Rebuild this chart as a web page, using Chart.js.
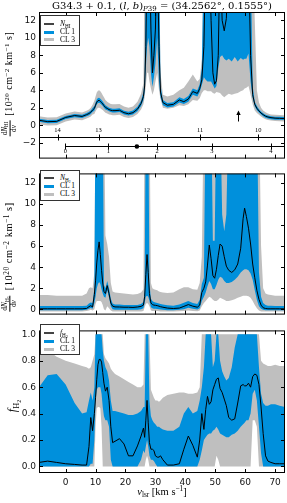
<!DOCTYPE html>
<html>
<head>
<meta charset="utf-8">
<script src="https://cdn.jsdelivr.net/npm/chart.js@4.4.1/dist/chart.umd.min.js"></script>
<style>
  html, body { margin:0; padding:0; background:#fff; }
  body { position:relative; width:287px; height:503px; overflow:hidden; font-family:"Liberation Serif", serif; color:#000; }
  canvas { position:absolute; left:0; }
  .txt { position:absolute; white-space:nowrap; line-height:1; }
  .rot { transform:translate(-50%,-50%) rotate(-90deg); }
  .ctr { transform:translate(-50%,-50%); }
  sub { font-size:70%; vertical-align:-0.3em; line-height:0; }
  sup { font-size:70%; vertical-align:0.45em; line-height:0; }
  .frac { display:inline-block; vertical-align:middle; text-align:center; font-size:72%; line-height:1.1; margin-right:2px; letter-spacing:0; }
  .frac > span { display:block; padding:0 1px; }
  .frac > span:first-child { border-bottom:0.8px solid #000; }
  .legend { position:absolute; left:40px; width:38px; height:29px; border:1px solid #333; background:#fff; font-size:7.5px; }
  .legend .row { position:absolute; left:0; width:38px; height:8px; }
  .legend .s { position:absolute; left:3px; width:10px; }
  .legend .t { position:absolute; left:19px; top:0; line-height:8px; }
</style>
</head>
<body>
<canvas id="c1" width="287" height="167" style="top:0"></canvas>
<canvas id="c2" width="287" height="158" style="top:165px"></canvas>
<canvas id="c3" width="287" height="181" style="top:322px"></canvas>

<div class="txt" style="left:0; width:324px; text-align:center; top:1px; font-size:10px; font-family:'DejaVu Serif',serif;">G34.3 + 0.1, (<i>l</i>, <i>b</i>)<sub><i>P</i>39</sub> = (34.2562°, 0.1555°)</div>

<div class="txt rot" style="left:10px; top:84px; font-size:10px; letter-spacing:0.5px;"><span class="frac"><span>d<i>N</i><sub>HI</sub></span><span>d<i>v</i></span></span> [10<sup>20</sup> cm<sup>−2</sup> km<sup>−1</sup> s]</div>
<div class="txt rot" style="left:10px; top:257px; font-size:10.3px; letter-spacing:0.6px;"><span class="frac"><span>d<i>N</i><sub>H<sub>2</sub></sub></span><span>d<i>v</i></span></span> [10<sup>20</sup> cm<sup>−2</sup> km<sup>−1</sup> s]</div>
<div class="txt rot" style="left:12px; top:406px; font-size:12px;"><i>f</i><sub>H<sub>2</sub></sub></div>
<div class="txt ctr" style="left:162px; top:492px; font-size:10.5px;"><i>v</i><sub>lsr</sub> [km s<sup>−1</sup>]</div>

<div class="legend" style="top:15px;">
  <div class="row" style="top:4px"><i class="s" style="top:3px;height:1.5px;background:#444"></i><span class="t"><i>N</i><sub>HI</sub></span></div>
  <div class="row" style="top:12px"><i class="s" style="top:2.5px;height:3px;background:#0090dc"></i><span class="t">CL 1</span></div>
  <div class="row" style="top:19.5px"><i class="s" style="top:2.5px;height:3px;background:#bfbfbf"></i><span class="t">CL 3</span></div>
</div>
<div class="legend" style="top:170px;">
  <div class="row" style="top:3px"><i class="s" style="top:3px;height:1.5px;background:#444"></i><span class="t"><i>N</i><sub>H<sub>2</sub></sub></span></div>
  <div class="row" style="top:11px"><i class="s" style="top:2.5px;height:3px;background:#0090dc"></i><span class="t">CL 1</span></div>
  <div class="row" style="top:19px"><i class="s" style="top:2.5px;height:3px;background:#bfbfbf"></i><span class="t">CL 3</span></div>
</div>
<div class="legend" style="top:324px;">
  <div class="row" style="top:4px"><i class="s" style="top:3px;height:1.5px;background:#444"></i><span class="t"><i>f</i><sub>H<sub>2</sub></sub></span></div>
  <div class="row" style="top:12px"><i class="s" style="top:2.5px;height:3px;background:#0090dc"></i><span class="t">CL 1</span></div>
  <div class="row" style="top:20px"><i class="s" style="top:2.5px;height:3px;background:#bfbfbf"></i><span class="t">CL 3</span></div>
</div>

<script>
// velocity grid shared by all three panels (km/s)
const vlsr = [
  -8.9, -6, -3, 0, 3, 5.5, 7, 7.8, 8.4, 9.0,
  9.6, 10.0, 10.4, 10.8, 11.2, 11.6, 12.0, 12.4, 12.8, 13.3,
  13.9, 14.5, 15.1, 15.7, 16.5, 18, 19.5, 21, 22.5, 24,
  25.2, 26.0, 26.4, 26.8, 27.2, 27.6, 28.0, 28.5, 29.0, 29.5,
  30.0, 30.6, 31.2, 31.7, 32.5, 34, 36, 38, 39.5, 41,
  42.5, 44, 44.8, 45.5, 46.2, 46.8, 47.4, 48.0, 48.6, 49.2,
  49.8, 50.4, 51.0, 51.6, 52.3, 53.0, 53.7, 54.5, 55.5, 56.5,
  57.5, 58.5, 59.3, 59.8, 60.4, 61.1, 61.8, 62.5, 63.2, 63.9,
  64.6, 65.3, 66.0, 66.8, 67.6, 68.6, 70, 71.5, 73.3
];

// dN_HI/dv
const hiMed = [
  0.58, 0.42, 0.45, 0.9, 1.12, 1.02, 1.22, 1.35, 1.5, 1.75,
  1.93, 2.3, 2.65, 2.82, 2.85, 2.75, 2.6, 2.45, 2.25, 2.05,
  1.93, 1.8, 1.72, 1.68, 1.68, 1.72, 1.45, 1.32, 1.45, 1.85,
  2.5, 3.3, 4.5, 9, 20, 20, 20, 11, 6.0, 8,
  11, 20, 9, 3.8, 2.6, 2.3, 2.4, 2.9, 2.7, 3.0,
  3.86, 3.65, 4.2, 5.2, 9, 20, 20, 20, 12, 6.0,
  4.7, 5.1, 8, 20, 12.0, 10.8, 12.2, 20, 20, 20,
  20, 20, 20, 20, 20, 20, 8, 3.5, 2.4, 1.95,
  1.65, 1.4, 1.22, 1.05, 0.95, 0.88, 0.82, 0.8, 0.78
];
const hiCl1Lo = [
  0.4, 0.25, 0.28, 0.72, 0.93, 0.84, 1.03, 1.15, 1.3, 1.52,
  1.68, 2.03, 2.38, 2.55, 2.58, 2.5, 2.35, 2.2, 2.02, 1.82,
  1.72, 1.6, 1.52, 1.48, 1.48, 1.52, 1.25, 1.12, 1.25, 1.6,
  2.2, 2.9, 3.8, 6.5, 9, 10, 9, 6, 4.4, 5.5,
  7, 10, 5, 3.2, 2.3, 2.05, 2.15, 2.6, 2.45, 2.7,
  3.5, 3.3, 3.8, 4.6, 5.5, 5.2, 5.0, 5.0, 5.0, 4.6,
  4.2, 4.5, 6.5, 7.8, 8.0, 7.6, 7.4, 7.6, 7.3, 7.8,
  7.3, 7.7, 7.5, 7.6, 7.6, 8.2, 5, 3.1, 2.15, 1.72,
  1.47, 1.23, 1.05, 0.88, 0.78, 0.71, 0.65, 0.63, 0.61
];
const hiCl1Hi = [
  0.76, 0.6, 0.63, 1.08, 1.3, 1.2, 1.4, 1.55, 1.7, 1.98,
  2.2, 2.6, 2.95, 3.12, 3.15, 3.05, 2.9, 2.73, 2.52, 2.3,
  2.15, 2.02, 1.94, 1.9, 1.9, 1.95, 1.68, 1.55, 1.7, 2.12,
  2.8, 3.8, 5.5, 20, 20, 20, 20, 20, 20, 20,
  20, 20, 20, 4.6, 2.9, 2.55, 2.65, 3.2, 3.0, 3.35,
  4.2, 4.0, 4.7, 6.5, 20, 20, 20, 20, 20, 20,
  20, 20, 20, 20, 20, 20, 20, 20, 20, 20,
  20, 20, 20, 20, 20, 20, 20, 4.5, 2.7, 2.2,
  1.83, 1.57, 1.39, 1.22, 1.12, 1.05, 0.99, 0.97, 0.95
];
const hiCl3Lo = [
  0.1, -0.02, 0.0, 0.45, 0.67, 0.57, 0.77, 0.9, 1.02, 1.25,
  1.3, 1.6, 1.85, 2.0, 2.0, 1.95, 1.85, 1.75, 1.6, 1.45,
  1.35, 1.25, 1.2, 1.15, 1.15, 1.2, 0.95, 0.85, 0.95, 1.3,
  1.8, 2.4, 3.2, 4.5, 6, 6, 5, 4.2, 3.5, 4.0,
  5.0, 6, 4.0, 3.0, 2.0, 1.9, 2.0, 2.3, 2.2, 2.4,
  2.9, 2.8, 3.1, 3.7, 4.0, 4.0, 3.9, 3.9, 3.9, 3.7,
  3.6, 3.8, 3.75, 3.7, 3.4, 3.2, 3.4, 3.6, 3.5, 3.6,
  3.7, 3.9, 4.0, 4.2, 4.3, 4.5, 3.5, 2.4, 1.7, 1.4,
  1.2, 1.0, 0.85, 0.7, 0.6, 0.55, 0.5, 0.48, 0.45
];
const hiCl3Hi = [
  1.05, 0.9, 0.92, 1.35, 1.57, 1.47, 1.67, 1.82, 2.0, 2.35,
  2.8, 3.3, 3.75, 3.95, 4.0, 3.9, 3.7, 3.45, 3.2, 2.9,
  2.7, 2.55, 2.45, 2.4, 2.4, 2.45, 2.15, 2.0, 2.15, 2.7,
  3.6, 4.8, 20, 20, 20, 20, 20, 20, 20, 20,
  20, 20, 20, 6.0, 3.5, 3.3, 3.5, 4.0, 4.3, 5.0,
  5.8, 5.0, 5.3, 7.5, 20, 20, 20, 20, 20, 20,
  20, 20, 20, 20, 20, 20, 20, 20, 20, 20,
  20, 20, 20, 20, 20, 20, 20, 20, 12, 4,
  2.6, 2.0, 1.7, 1.5, 1.35, 1.25, 1.2, 1.18, 1.15
];

// dN_H2/dv
const h2Med = [
  0.05, 0.05, 0.05, 0.05, 0.05, 0.05, 0.08, 0.25, 0.35, 0.22,
  1.4, 2.7, 4.4, 5.6, 6.4, 5.2, 3.7, 2.5, 1.7, 1.5,
  2.25, 1.5, 0.6, 0.3, 0.23, 0.22, 0.2, 0.2, 0.18, 0.22,
  0.28, 0.4, 1.2, 3.3, 5.2, 3.5, 1.5, 0.6, 0.45, 0.4,
  0.38, 0.35, 0.3, 0.25, 0.2, 0.12, 0.08, 0.12, 0.28, 0.45,
  0.3, 0.2, 0.4, 1.6, 2.0, 2.6, 4.2, 6.1, 4.8, 3.2,
  2.95, 3.8, 5.1, 6.2, 6.0, 5.0, 4.1, 3.7, 3.5, 3.75,
  4.3, 5.8, 8.6, 9.6, 8.8, 7.7, 6.2, 4.3, 3.0, 1.8,
  0.95, 0.4, 0.15, 0.08, 0.05, 0.05, 0.05, 0.05, 0.05
];
const h2Cl1Lo = [
  -0.08, -0.08, -0.08, -0.08, -0.08, -0.08, -0.05, 0.05, 0.12, 0.05,
  0.6, 1.2, 2.0, 2.4, 2.6, 2.4, 1.9, 1.5, 1.2, 1.1,
  1.8, 1.1, 0.3, 0.0, -0.05, -0.05, -0.05, -0.05, -0.05, -0.05,
  0.0, 0.1, 0.6, 1.2, 1.3, 1.2, 0.8, 0.2, 0.1, 0.05,
  0.05, 0.02, 0.0, -0.02, -0.05, -0.08, -0.08, -0.05, 0.0, 0.15,
  0.05, -0.02, 0.1, 0.8, 1.2, 1.6, 2.2, 2.7, 2.4, 1.9,
  1.9, 2.3, 2.8, 3.1, 3.0, 2.7, 2.5, 2.5, 2.6, 2.8,
  3.1, 3.5, 3.7, 3.8, 3.8, 3.7, 3.4, 2.8, 1.8, 0.9,
  0.3, 0.05, -0.05, -0.08, -0.08, -0.08, -0.08, -0.08, -0.08
];
const h2Cl1Hi = [
  0.32, 0.32, 0.32, 0.32, 0.32, 0.32, 0.35, 0.55, 0.65, 0.6,
  2.0, 20, 20, 20, 20, 20, 20, 20, 2.3, 2.0,
  2.7, 2.0, 1.0, 0.55, 0.45, 0.45, 0.42, 0.42, 0.4, 0.42,
  0.5, 0.7, 1.8, 20, 20, 20, 2.5, 1.0, 0.8, 0.7,
  0.65, 0.6, 0.55, 0.5, 0.45, 0.38, 0.35, 0.45, 0.62, 0.8,
  0.6, 0.5, 0.9, 2.4, 3.0, 20, 20, 20, 20, 6.5,
  6.5, 20, 20, 20, 9, 7.4, 9, 20, 20, 20,
  20, 20, 20, 20, 20, 20, 20, 20, 20, 20,
  3.5, 1.2, 0.6, 0.4, 0.35, 0.33, 0.32, 0.32, 0.32
];
const h2Cl3Lo = [
  -0.2, -0.2, -0.2, -0.2, -0.2, -0.2, -0.15, -0.1, -0.05, -0.1,
  0.0, 0.5, 0.8, 0.8, 0.8, 0.8, 0.7, 0.4, 0.0, -0.1,
  0.3, 0.1, -0.1, -0.2, -0.2, -0.2, -0.2, -0.2, -0.2, -0.2,
  -0.2, -0.15, 0.2, 0.5, 0.6, 0.5, 0.3, -0.1, -0.15, -0.15,
  -0.15, -0.15, -0.18, -0.2, -0.2, -0.2, -0.2, -0.18, -0.15, -0.1,
  -0.15, -0.18, -0.1, 0.3, 0.6, 0.8, 1.0, 1.2, 1.1, 0.9,
  0.8, 0.8, 0.9, 1.1, 1.0, 0.9, 0.8, 0.8, 0.85, 0.95,
  1.1, 1.2, 1.3, 1.3, 1.3, 1.25, 1.1, 0.8, 0.4, 0.1,
  -0.1, -0.2, -0.2, -0.2, -0.2, -0.2, -0.2, -0.2, -0.2
];
const h2Cl3Hi = [
  1.35, 1.35, 1.3, 1.3, 1.3, 1.3, 1.5, 2.0, 2.1, 2.0,
  3.5, 20, 20, 20, 20, 20, 20, 20, 20, 7.0,
  6.2, 5.0, 2.5, 1.7, 1.6, 1.55, 1.5, 1.45, 1.4, 1.45,
  1.6, 1.9, 20, 20, 20, 20, 20, 2.5, 2.0, 1.9,
  1.85, 1.8, 1.7, 1.65, 1.6, 1.55, 1.6, 1.9, 2.1, 2.1,
  1.9, 1.85, 2.5, 5, 20, 20, 20, 20, 20, 20,
  20, 20, 20, 20, 20, 20, 20, 20, 20, 20,
  20, 20, 20, 20, 20, 20, 20, 20, 20, 20,
  20, 6, 2.0, 1.5, 1.4, 1.35, 1.3, 1.3, 1.3
];

// f_H2
const fMed = [
  0.03, 0.04, 0.03, 0.02, 0.015, 0.01, 0.01, 0.15, 0.37, 0.27,
  0.4, 0.52, 0.66, 0.77, 0.81, 0.81, 0.79, 0.71, 0.63, 0.57,
  0.6, 0.5, 0.3, 0.18, 0.19, 0.21, 0.17, 0.08, 0.08, 0.155,
  0.23, 0.29, 0.22, 0.35, 0.5, 0.33, 0.18, 0.13, 0.13, 0.12,
  0.08, 0.07, 0.07, 0.08, 0.05, 0.01, 0.01, 0.02, 0.13, 0.23,
  0.16, 0.07, 0.2, 0.4, 0.28, 0.43, 0.53, 0.47, 0.49, 0.58,
  0.62, 0.66, 0.67, 0.59, 0.56, 0.51, 0.46, 0.37, 0.35, 0.36,
  0.48, 0.61, 0.62, 0.61, 0.61, 0.63, 0.6, 0.68, 0.7, 0.69,
  0.62, 0.45, 0.25, 0.08, 0.04, 0.03, 0.02, 0.02, 0.02
];
const fCl1Lo = [
  0, 0, 0, 0, 0, 0, 0, 0, 0.02, 0.02,
  0.2, 0.5, 0.58, 0.6, 0.6, 0.6, 0.55, 0.45, 0.38, 0.35,
  0.35, 0.3, 0.05, 0, 0, 0, 0, 0, 0, 0,
  0.05, 0.12, 0.1, 0.15, 0.2, 0.15, 0.08, 0.05, 0.05, 0.04,
  0.02, 0, 0, 0, 0, 0, 0, 0, 0, 0,
  0, 0, 0.05, 0.12, 0.2, 0.22, 0.24, 0.25, 0.25, 0.27,
  0.28, 0.3, 0.28, 0.25, 0.24, 0.23, 0.22, 0.22, 0.24, 0.25,
  0.27, 0.3, 0.32, 0.33, 0.35, 0.35, 0.4, 0.55, 0.58, 0.5,
  0.3, 0.1, 0, 0, 0, 0, 0, 0, 0
];
const fCl1Hi = [
  0.6, 0.69, 0.7, 0.62, 0.48, 0.4, 0.41, 0.5, 0.56, 0.5,
  0.6, 1.0, 1.0, 1.0, 1.0, 1.0, 1.0, 0.88, 0.8, 0.75,
  0.72, 0.65, 0.5, 0.42, 0.42, 0.41, 0.4, 0.39, 0.39, 0.4,
  0.42, 0.45, 0.45, 1.0, 1.0, 1.0, 0.5, 0.38, 0.35, 0.33,
  0.32, 0.3, 0.3, 0.29, 0.28, 0.27, 0.27, 0.3, 0.4, 0.45,
  0.4, 0.42, 0.5, 0.6, 0.75, 1.0, 1.0, 1.0, 1.0, 0.75,
  0.8, 1.0, 1.0, 0.8, 0.72, 0.68, 0.65, 0.67, 0.75, 0.9,
  1.0, 1.0, 1.0, 1.0, 1.0, 1.0, 1.0, 1.0, 1.0, 1.0,
  0.75, 0.55, 0.48, 0.46, 0.46, 0.47, 0.47, 0.46, 0.45
];
const fCl3Lo = [
  0, 0, 0, 0, 0, 0, 0, 0, 0, 0,
  0, 0.3, 0.44, 0.45, 0.45, 0.44, 0.3, 0, 0, 0,
  0, 0, 0, 0, 0, 0, 0, 0, 0, 0,
  0, 0, 0, 0.05, 0.08, 0.05, 0, 0, 0, 0,
  0, 0, 0, 0, 0, 0, 0, 0, 0, 0,
  0, 0, 0, 0, 0, 0, 0, 0, 0, 0,
  0, 0.08, 0.05, 0, 0, 0, 0, 0, 0, 0,
  0, 0, 0, 0, 0, 0, 0, 0.35, 0.35, 0.3,
  0, 0, 0, 0, 0, 0, 0, 0, 0
];
const fCl3Hi = [
  0.95, 0.88, 0.83, 0.8, 0.78, 0.76, 0.75, 0.74, 0.75, 0.8,
  0.85, 1.0, 1.0, 1.0, 1.0, 1.0, 1.0, 1.0, 0.85, 0.82,
  0.8, 0.78, 0.74, 0.72, 0.7, 0.68, 0.66, 0.64, 0.62, 0.6,
  0.6, 0.62, 1.0, 1.0, 1.0, 1.0, 1.0, 0.58, 0.55, 0.52,
  0.5, 0.5, 0.49, 0.5, 0.52, 0.54, 0.55, 0.56, 0.56, 0.55,
  0.55, 0.56, 0.6, 1.0, 1.0, 1.0, 1.0, 1.0, 1.0, 1.0,
  1.0, 1.0, 1.0, 1.0, 1.0, 1.0, 1.0, 1.0, 1.0, 1.0,
  1.0, 1.0, 1.0, 1.0, 1.0, 1.0, 1.0, 1.0, 1.0, 1.0,
  1.0, 0.8, 0.78, 0.77, 0.76, 0.76, 0.77, 0.76, 0.76
];

// ticks
const xTicks = [0, 10, 20, 30, 40, 50, 60, 70];
const hiTicks = [-2, 0, 2, 4, 6, 8, 10, 12];
const h2Ticks = [0, 2, 4, 6, 8, 10, 12];
const fTicks = [0, 0.2, 0.4, 0.6, 0.8, 1.0];

// galactocentric radius (kpc) and distance (kpc) scales along v_lsr
const radiusV = [-2.7, 11.0, 27.1, 44.9, 64.4];
const radiusTxt = ['14', '13', '12', '11', '10'];
const distV = [-0.1, 14.3, 30.6, 48.9, 68.6];
const distTxt = ['0', '1', '2', '3', '4'];
const sourceV = 23.8;
const arrowV = 57.5;

const BLUE = '#0090dc', GREY = '#bfbfbf';
const X_MIN = -8.9, X_MAX = 73.3;

function pts(arr) { return vlsr.map((v, i) => ({ x: v, y: arr[i] })); }

function band(lo, hi, color, order) {
  return [
    { data: pts(lo), borderWidth: 0, borderColor: 'rgba(0,0,0,0)', pointRadius: 0, fill: false, order },
    { data: pts(hi), borderWidth: 0, borderColor: 'rgba(0,0,0,0)', pointRadius: 0, fill: '-1', backgroundColor: color, order }
  ];
}

function sets(med, c1lo, c1hi, c3lo, c3hi) {
  return [
    ...band(c3lo, c3hi, GREY, 2),
    ...band(c1lo, c1hi, BLUE, 1),
    { data: pts(med), borderColor: '#000', borderWidth: 1, pointRadius: 0, fill: false, order: 0 }
  ];
}

// box + inward ticks on all four sides, like the old matplotlib style
function frame(yTicks) {
  return {
    id: 'frame',
    afterDatasetsDraw(chart) {
      const { ctx, chartArea: a, scales } = chart;
      ctx.save();
      ctx.strokeStyle = '#000';
      ctx.lineWidth = 1;
      ctx.beginPath();
      xTicks.forEach(v => {
        const px = Math.round(scales.x.getPixelForValue(v)) + 0.5;
        ctx.moveTo(px, a.bottom); ctx.lineTo(px, a.bottom - 4);
        ctx.moveTo(px, a.top); ctx.lineTo(px, a.top + 4);
      });
      yTicks.forEach(v => {
        const py = Math.round(scales.y.getPixelForValue(v)) + 0.5;
        ctx.moveTo(a.left, py); ctx.lineTo(a.left + 4, py);
        ctx.moveTo(a.right, py); ctx.lineTo(a.right - 4, py);
      });
      ctx.stroke();
      ctx.strokeRect(a.left + 0.5, a.top + 0.5, a.right - a.left - 1, a.bottom - a.top - 1);
      ctx.restore();
    }
  };
}

// radius / distance scales and the arrow inside the HI panel
const ROW_R_TXT = -0.58, ROW_R = -1.29, ROW_D = -2.32, ROW_D_TXT = -3.0;
const scaleMarks = {
  id: 'scaleMarks',
  afterDatasetsDraw(chart) {
    const { ctx, chartArea: a, scales: { x, y } } = chart;
    const yr = Math.round(y.getPixelForValue(ROW_R)) + 0.5;
    const yd = Math.round(y.getPixelForValue(ROW_D)) + 0.5;
    ctx.save();
    ctx.strokeStyle = '#000';
    ctx.fillStyle = '#000';
    ctx.lineWidth = 1;
    ctx.beginPath();
    ctx.moveTo(a.left, yr); ctx.lineTo(a.right, yr);
    const x0 = Math.round(x.getPixelForValue(distV[0])) + 0.5;
    ctx.moveTo(x0, yd); ctx.lineTo(a.right, yd);
    radiusV.forEach(v => {
      const px = Math.round(x.getPixelForValue(v)) + 0.5;
      ctx.moveTo(px, yr - 3); ctx.lineTo(px, yr + 3);
    });
    distV.forEach(v => {
      const px = Math.round(x.getPixelForValue(v)) + 0.5;
      ctx.moveTo(px, yd - 3); ctx.lineTo(px, yd + 3);
    });
    ctx.stroke();

    ctx.font = '6.5px "Liberation Serif", serif';
    ctx.textAlign = 'center';
    ctx.textBaseline = 'middle';
    radiusV.forEach((v, i) => ctx.fillText(radiusTxt[i], x.getPixelForValue(v), y.getPixelForValue(ROW_R_TXT)));
    distV.forEach((v, i) => ctx.fillText(distTxt[i], x.getPixelForValue(v), y.getPixelForValue(ROW_D_TXT)));

    ctx.beginPath();
    ctx.arc(x.getPixelForValue(sourceV), yd, 2.3, 0, Math.PI * 2);
    ctx.fill();

    const ax = Math.round(x.getPixelForValue(arrowV)) + 0.5;
    const yTip = y.getPixelForValue(1.71), yTail = y.getPixelForValue(0.44);
    ctx.beginPath();
    ctx.moveTo(ax, yTail); ctx.lineTo(ax, yTip + 3);
    ctx.stroke();
    ctx.beginPath();
    ctx.moveTo(ax, yTip); ctx.lineTo(ax - 2.2, yTip + 4.5); ctx.lineTo(ax + 2.2, yTip + 4.5);
    ctx.closePath();
    ctx.fill();
    ctx.restore();
  }
};

function panel(id, datasets, yMin, yMax, yTicks, fmt, o) {
  return new Chart(document.getElementById(id), {
    type: 'line',
    data: { datasets },
    options: {
      animation: false, responsive: false, devicePixelRatio: 1,
      layout: { padding: { top: o.padTop, bottom: o.padBottom, right: 2, left: 0 } },
      plugins: { legend: { display: false }, tooltip: { enabled: false } },
      elements: { line: { tension: 0 }, point: { radius: 0 } },
      scales: {
        x: {
          type: 'linear', min: X_MIN, max: X_MAX,
          grid: { display: false, drawTicks: false }, border: { display: false },
          afterBuildTicks: s => { s.ticks = xTicks.map(v => ({ value: v })); },
          afterFit: s => { s.height = o.xHeight; },
          ticks: { display: o.xLabels, autoSkip: false, maxRotation: 0, padding: 4, color: '#111',
                   font: { family: 'DejaVu Sans', size: 9 } }
        },
        y: {
          type: 'linear', min: yMin, max: yMax,
          grid: { display: false, drawTicks: false }, border: { display: false },
          afterBuildTicks: s => { s.ticks = yTicks.map(v => ({ value: v })); },
          afterFit: s => { s.width = 39; },
          ticks: { padding: 3, color: '#111', font: { family: 'DejaVu Sans', size: 9 }, callback: fmt }
        }
      }
    },
    plugins: [frame(yTicks), ...(o.extra || [])]
  });
}

const intFmt = v => (v < 0 ? '\u2212' + Math.abs(v) : String(v));

panel('c1', sets(hiMed, hiCl1Lo, hiCl1Hi, hiCl3Lo, hiCl3Hi), -3.8, 12.95, hiTicks, intFmt,
      { padTop: 12, padBottom: 1, xHeight: 0, xLabels: false, extra: [scaleMarks] });
panel('c2', sets(h2Med, h2Cl1Lo, h2Cl1Hi, h2Cl3Lo, h2Cl3Hi), -0.5, 12.9, h2Ticks, intFmt,
      { padTop: 1, padBottom: 1, xHeight: 0, xLabels: false });
panel('c3', sets(fMed, fCl1Lo, fCl1Hi, fCl3Lo, fCl3Hi), -0.05, 1.03, fTicks, v => v.toFixed(1),
      { padTop: 1, padBottom: 0, xHeight: 30, xLabels: true });
</script>
</body>
</html>
